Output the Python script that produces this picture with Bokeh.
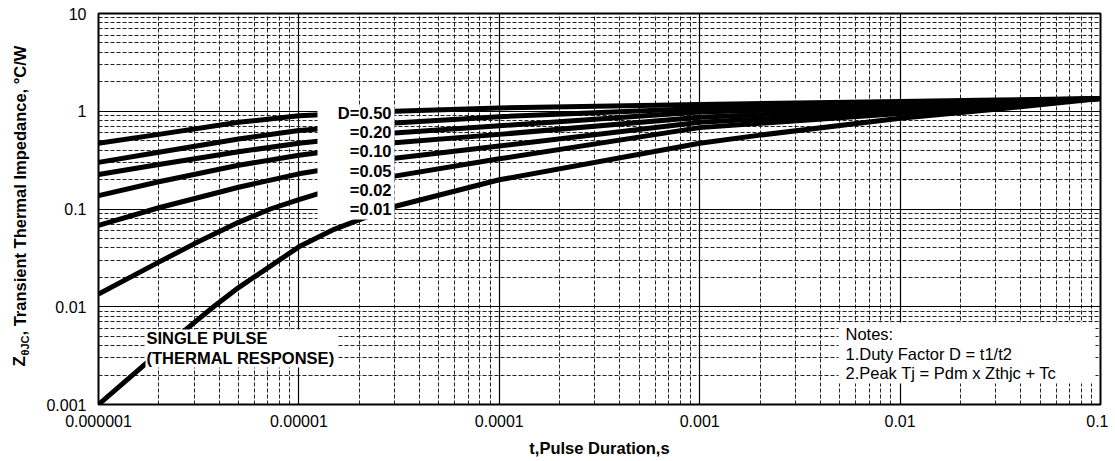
import numpy as np
from bokeh.plotting import figure
from bokeh.layouts import row
from bokeh.models import Range1d, FixedTicker, Label, BoxAnnotation
from bokeh.embed import file_html
from bokeh.resources import INLINE

# ---------------- data ----------------
t_d50 = [1e-6, 2e-6, 5e-6, 1e-5, 3e-5, 1e-4, 1e-3, 1e-2, 3e-2, 1e-1]
z_d50 = [0.47, 0.58, 0.77, 0.90, 1.00, 1.08, 1.17, 1.26, 1.30, 1.35]

t_d20 = [1e-6, 2e-6, 5e-6, 1e-5, 3e-5, 1e-4, 1e-3, 1e-2, 3e-2, 1e-1]
z_d20 = [0.30, 0.38, 0.52, 0.635, 0.76, 0.88, 1.07, 1.20, 1.27, 1.35]

t_d10 = [1e-6, 2e-6, 5e-6, 1e-5, 3e-5, 1e-4, 1e-3, 1e-2, 3e-2, 1e-1]
z_d10 = [0.225, 0.285, 0.385, 0.47, 0.60, 0.71, 0.98, 1.13, 1.23, 1.35]

t_d05 = [1e-6, 2e-6, 5e-6, 1e-5, 3e-5, 1e-4, 1e-3, 1e-2, 3e-2, 1e-1]
z_d05 = [0.137, 0.19, 0.28, 0.355, 0.475, 0.58, 0.87, 1.06, 1.19, 1.35]

t_d02 = [1e-6, 2e-6, 5e-6, 1e-5, 3e-5, 1e-4, 1e-3, 1e-2, 3e-2, 1e-1]
z_d02 = [0.068, 0.103, 0.167, 0.229, 0.33, 0.44, 0.77, 1.00, 1.15, 1.35]

t_d01 = [1e-6, 2e-6, 3e-6, 5e-6, 7.2e-6, 1e-5, 1.24e-5, 3e-5, 1e-4, 1e-3, 1e-2, 3e-2, 1e-1]
z_d01 = [0.0135, 0.0286, 0.044, 0.073, 0.10, 0.125, 0.143, 0.217, 0.326, 0.68, 0.95, 1.12, 1.35]

t_single = [1e-6, 1.75e-6, 2.9e-6, 3.75e-6, 5e-6, 1e-5, 1.5e-5, 1.95e-5, 3e-5, 1e-4, 1e-3, 2e-3, 1e-2, 3e-2, 1e-1]
z_single = [0.001, 0.0027, 0.0065, 0.010, 0.0157, 0.041, 0.062, 0.076, 0.106, 0.199, 0.47, 0.57, 0.85, 1.05, 1.35]

series_t = [t_d50, t_d20, t_d10, t_d05, t_d02, t_d01, t_single]
series_z = [z_d50, z_d20, z_d10, z_d05, z_d02, z_d01, z_single]

legend_labels = ["D=0.50", "=0.20", "=0.10", "=0.05", "=0.02", "=0.01"]
single_labels = ["SINGLE PULSE", "(THERMAL RESPONSE)"]
note_labels = ["Notes:", "1.Duty Factor D = t1/t2", "2.Peak Tj = Pdm x Zthjc + Tc"]

x_tick_vals = [1e-6, 1e-5, 1e-4, 1e-3, 1e-2, 1e-1]
x_tick_text = ["0.000001", "0.00001", "0.0001", "0.001", "0.01", "0.1"]
y_tick_vals = [1e-3, 1e-2, 1e-1, 1.0, 10.0]
y_tick_text = ["0.001", "0.01", "0.1", "1", "10"]

x_label = "t,Pulse Duration,s"
y_label_main = "Z"
y_label_sub = "\u03b8JC"
y_label_rest = ", Transient Thermal Impedance, \u00b0C/W"

# ---------------- layout ----------------
FONT = "Liberation Sans"
H = 458                 # canvas height
LW = 40                 # width of the strip holding the y-axis title
PAGE_FL, PAGE_FT = 98, 13   # frame position on the page
FW, FH = 1002, 391
X0, X1 = 1e-6, 0.1
Y0, Y1 = 0.001, 10.0


def dx(px):
    """page pixel x -> data x of the main plot"""
    c = px - PAGE_FL
    return 10 ** (np.log10(X0) + c / FW * (np.log10(X1) - np.log10(X0)))


def dy(py):
    """page pixel y -> data y of the main plot"""
    c = py - PAGE_FT
    return 10 ** (np.log10(Y1) - c / FH * (np.log10(Y1) - np.log10(Y0)))


# strip with the rotated y-axis title (its frame covers the whole strip;
# y runs downward so that values are page pixels)
ttl = figure(frame_width=LW, frame_height=H,
             x_range=Range1d(0, LW), y_range=Range1d(H, 0),
             x_axis_location=None, y_axis_location=None,
             min_border=0, output_backend="svg", toolbar_location=None,
             background_fill_color="white", border_fill_color="white")
ttl.grid.visible = False
ttl.outline_line_color = None
ttl.title.visible = False

ylx = 19
ttl.add_layout(Label(x=ylx, y=353, text=y_label_main, angle=np.pi / 2,
                     text_font=FONT, text_font_size="17px", text_font_style="bold",
                     text_align="left", text_baseline="middle", text_color="black"))
ttl.add_layout(Label(x=ylx + 5, y=342, text=y_label_sub, angle=np.pi / 2,
                     text_font=FONT, text_font_size="11px", text_font_style="bold",
                     text_align="left", text_baseline="middle", text_color="black"))
ttl.add_layout(Label(x=ylx, y=322, text=y_label_rest, angle=np.pi / 2,
                     text_font=FONT, text_font_size="16.5px", text_font_style="bold",
                     text_align="left", text_baseline="middle", text_color="black"))

# main chart
p = figure(
    x_axis_type="log", y_axis_type="log",
    x_range=Range1d(X0, X1), y_range=Range1d(Y0, Y1),
    frame_width=FW, frame_height=FH,
    min_border_left=PAGE_FL - LW, min_border_right=8,
    min_border_top=PAGE_FT, min_border_bottom=H - PAGE_FT - FH,
    output_backend="svg", toolbar_location=None,
    background_fill_color="white", border_fill_color="white",
)

x_minor = [m * d for d in x_tick_vals[:-1] for m in range(2, 10)]
y_minor = [m * d for d in y_tick_vals[:-1] for m in range(2, 10)]
p.xaxis.ticker = FixedTicker(ticks=x_tick_vals, minor_ticks=x_minor)
p.yaxis.ticker = FixedTicker(ticks=y_tick_vals, minor_ticks=y_minor)
p.xaxis.major_label_overrides = dict(zip(x_tick_vals, x_tick_text))
p.yaxis.major_label_overrides = dict(zip(y_tick_vals, y_tick_text))

for ax in (p.xaxis, p.yaxis):
    ax.major_tick_line_color = None
    ax.minor_tick_line_color = None
    ax.major_tick_in = 0
    ax.major_tick_out = 0
    ax.minor_tick_in = 0
    ax.minor_tick_out = 0
    ax.axis_line_color = None
    ax.major_label_text_font = FONT
    ax.major_label_text_font_size = "16px"
    ax.major_label_text_color = "black"
p.xaxis.major_label_standoff = 10
p.yaxis.major_label_standoff = 12

p.xaxis.axis_label = x_label
p.xaxis.axis_label_text_font = FONT
p.xaxis.axis_label_text_font_size = "16.5px"
p.xaxis.axis_label_text_font_style = "bold"
p.xaxis.axis_label_text_color = "black"
p.xaxis.axis_label_standoff = 9

for g in (p.xgrid, p.ygrid):
    g.grid_line_color = "black"
    g.grid_line_width = 1.2
    g.minor_grid_line_color = "#222222"
    g.minor_grid_line_width = 1
    g.minor_grid_line_dash = "4 2"

p.outline_line_color = "black"
p.outline_line_width = 2
p.outline_line_alpha = 1

for t, z in zip(series_t, series_z):
    p.line(t, z, line_color="black", line_width=5, line_join="round")

# white boxes behind the texts
boxes = [
    (317, 394, 106, 219),   # duty factor labels
    (145, 337, 329, 367),   # single pulse
    (838, 1095, 322, 383),  # notes
]
for l, r, tp, b in boxes:
    p.add_layout(BoxAnnotation(left=dx(l), right=dx(r), top=dy(tp), bottom=dy(b),
                               fill_color="white", fill_alpha=1.0,
                               line_color=None, line_alpha=0))

for i, s in enumerate(legend_labels):
    p.add_layout(Label(x=dx(391), y=dy(112.5 + i * 19.2), text=s,
                       text_font=FONT, text_font_size="16.5px", text_font_style="bold",
                       text_align="right", text_baseline="middle", text_color="black"))

for i, s in enumerate(single_labels):
    p.add_layout(Label(x=dx(146), y=dy(337 + i * 20), text=s,
                       text_font=FONT, text_font_size="16.5px", text_font_style="bold",
                       text_align="left", text_baseline="middle", text_color="black"))

for i, s in enumerate(note_labels):
    p.add_layout(Label(x=dx(845), y=dy(333.5 + i * 19.5), text=s,
                       text_font=FONT, text_font_size="16.5px", text_font_style="normal",
                       text_align="left", text_baseline="middle", text_color="black"))

layout = row(ttl, p, spacing=0)
open("out.html", "w").write(file_html(layout, INLINE))
